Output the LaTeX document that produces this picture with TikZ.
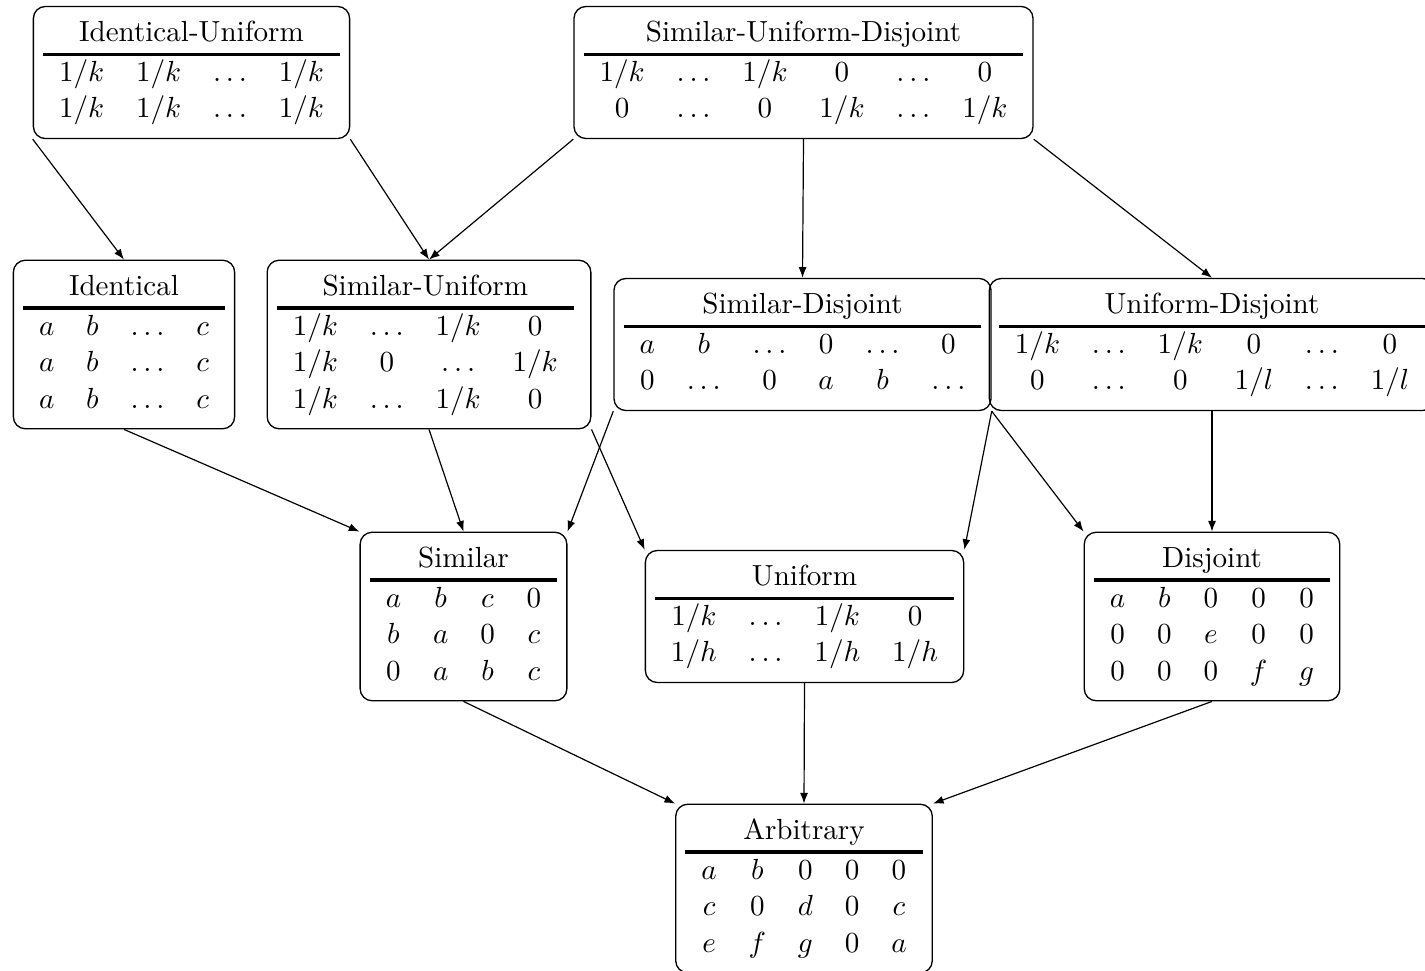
\documentclass[tikz,border=0pt,11pt]{standalone}
\usepackage{array}
\usetikzlibrary{arrows.meta}
\newcolumntype{M}{>{$}c<{$}}
\newcommand\hdr[2]{\multicolumn{#1}{c}{#2}\\\hline}
\begin{document}
\begin{tikzpicture}[x=0.3765pt,y=-0.3765pt,
  box/.style={draw, rounded corners=4.5pt, inner sep=0.3333em, line width=0.5pt,
    execute at begin node={\setlength\arrayrulewidth{1.2pt}\renewcommand\arraystretch{1.01}}},
  arr/.style={-{Latex[length=4pt,width=3pt]}, line width=0.45pt}]
\useasboundingbox (0,0) rectangle (1425,971);
\clip (0,0) rectangle (1425,971);

\node[box] (IU) at (191.5,72.5) {\begin{tabular}{MMMM}\hdr{4}{Identical-Uniform}
1/k & 1/k & \ldots & 1/k \\ 1/k & 1/k & \ldots & 1/k\end{tabular}};

\node[box] (SUD) at (803.5,72.5) {\begin{tabular}{MMMMMM}\hdr{6}{Similar-Uniform-Disjoint}
1/k & \ldots & 1/k & 0 & \ldots & 0 \\ 0 & \ldots & 0 & 1/k & \ldots & 1/k\end{tabular}};

\node[box] (ID) at (124,344.5) {\begin{tabular}{MMMM}\hdr{4}{Identical}
a & b & \ldots & c \\ a & b & \ldots & c \\ a & b & \ldots & c\end{tabular}};

\node[box] (SU) at (429,344.5) {\begin{tabular}{MMMM}\hdr{4}{Similar-Uniform}
1/k & \ldots & 1/k & 0 \\ 1/k & 0 & \ldots & 1/k \\ 1/k & \ldots & 1/k & 0\end{tabular}\kern2.8pt};

\node[box] (SD) at (802.5,344.5) {\begin{tabular}{MMMMMM}\hdr{6}{Similar-Disjoint}
a & b & \ldots & 0 & \ldots & 0 \\ 0 & \ldots & 0 & a & b & \ldots\end{tabular}};

\node[box] (UD) at (1212,344.5) {\begin{tabular}{MMMMMM}\hdr{6}{Uniform-Disjoint}
1/k & \ldots & 1/k & 0 & \ldots & 0 \\ 0 & \ldots & 0 & 1/l & \ldots & 1/l\end{tabular}};

\node[box] (SI) at (463.5,616.5) {\begin{tabular}{MMMM}\hdr{4}{Similar}
a & b & c & 0 \\ b & a & 0 & c \\ 0 & a & b & c\end{tabular}};

\node[box] (UN) at (804.5,616.5) {\begin{tabular}{MMMM}\hdr{4}{Uniform}
1/k & \ldots & 1/k & 0 \\ 1/h & \ldots & 1/h & 1/h\end{tabular}};

\node[box] (DJ) at (1212,616.5) {\begin{tabular}{MMMMM}\hdr{5}{Disjoint}
a & b & 0 & 0 & 0 \\ 0 & 0 & e & 0 & 0 \\ 0 & 0 & 0 & f & g\end{tabular}};

\node[box] (AR) at (804,888.5) {\begin{tabular}{MMMMM}\hdr{5}{Arbitrary}
a & b & 0 & 0 & 0 \\ c & 0 & d & 0 & c \\ e & f & g & 0 & a\end{tabular}};

\draw[arr] (IU.south west) -- (ID.north);
\draw[arr] (IU.south east) -- (SU.north);
\draw[arr] (SUD.south west) -- (SU.north);
\draw[arr] (SUD.south) -- (SD.north);
\draw[arr] (SUD.south east) -- (UD.north);
\draw[arr] (ID.south) -- (SI.north west);
\draw[arr] (SU.south) -- (SI.north);
\draw[arr] (SU.south east) -- (UN.north west);
\draw[arr] (SD.south west) -- (SI.north east);
\draw[arr] (SD.south east) -- (UN.north east);
\draw[arr] (SD.south east) -- (DJ.north west);
\draw[arr] (UD.south) -- (DJ.north);
\draw[arr] (SI.south) -- (AR.north west);
\draw[arr] (UN.south) -- (AR.north);
\draw[arr] (DJ.south) -- (AR.north east);
\end{tikzpicture}
\end{document}
